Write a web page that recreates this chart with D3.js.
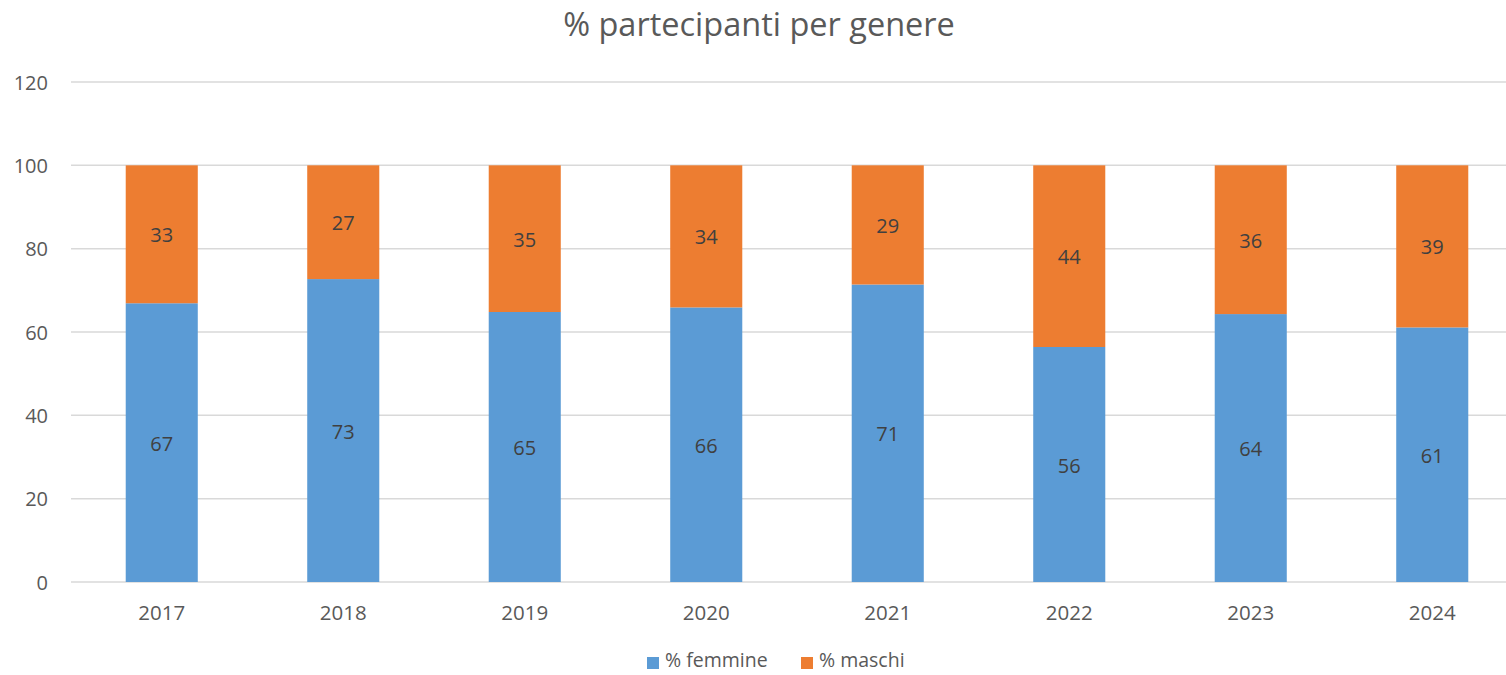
<!DOCTYPE html>
<html>
<head>
<meta charset="utf-8">
<script src="https://cdn.jsdelivr.net/npm/d3@7"></script>
<style>
	body { margin: 0; background: #fff; }
	svg text { font-family: "Open Sans", "Liberation Sans", sans-serif; }
</style>
</head>
<body>
<svg id="chart" width="1506" height="675"></svg>
<script>
const years = ['2017', '2018', '2019', '2020', '2021', '2022', '2023', '2024']
const femmine = [66.9, 72.7, 64.8, 65.9, 71.4, 56.4, 64.3, 61.1]
const maschi = [33.1, 27.3, 35.2, 34.1, 28.6, 43.6, 35.7, 38.9]
const yTicks = [0, 20, 40, 60, 80, 100, 120]
const seriesNames = ['% femmine', '% maschi']
const colors = ['#5B9BD5', '#ED7D31']

const svg = d3.select('#chart')
const width = 1506
const plotTop = 82, plotBottom = 582

const x = d3.scaleBand().domain(years).range([71, 1523])
	.paddingInner(0.603).paddingOuter(0.3015)
const y = d3.scaleLinear().domain([0, 120]).range([plotBottom, plotTop])

svg.append('text')
	.attr('x', 759).attr('y', 36)
	.attr('text-anchor', 'middle')
	.attr('font-size', 32.5).attr('fill', '#595959')
	.text('% partecipanti per genere')

// grid + y labels
const yAxis = d3.axisLeft(y).tickValues(yTicks).tickSize(0).tickPadding(0)
const gy = svg.append('g').attr('transform', 'translate(48,0)').call(yAxis)
gy.select('.domain').remove()
gy.selectAll('text').attr('font-size', 20).attr('fill', '#595959').attr('dy', '0.35em')

svg.append('g').selectAll('line').data(yTicks).enter()
	.append('line')
	.attr('x1', 71).attr('x2', width)
	.attr('y1', d => y(d)).attr('y2', d => y(d))
	.attr('stroke', '#d9d9d9').attr('stroke-width', 1.5)

// stacked data
const rows = years.map((yr, i) => ({year: yr, f: femmine[i], m: maschi[i]}))
const stack = d3.stack().keys(['f', 'm'])(rows)

const layers = svg.append('g').selectAll('g').data(stack).enter()
	.append('g').attr('fill', (d, i) => colors[i])

layers.selectAll('rect').data(d => d).enter()
	.append('rect')
	.attr('x', d => x(d.data.year))
	.attr('width', x.bandwidth())
	.attr('y', d => y(d[1]))
	.attr('height', d => y(d[0]) - y(d[1]))

layers.selectAll('text').data(d => d).enter()
	.append('text')
	.attr('x', d => x(d.data.year) + x.bandwidth() / 2)
	.attr('y', d => (y(d[0]) + y(d[1])) / 2 + 1)
	.attr('dy', '0.35em')
	.attr('text-anchor', 'middle')
	.attr('font-size', 20).attr('fill', '#404040')
	.text(d => Math.round(d[1] - d[0]))

// x axis labels
const xAxis = d3.axisBottom(x).tickSize(0).tickPadding(0)
const gx = svg.append('g').attr('transform', `translate(0,${plotBottom})`).call(xAxis)
gx.select('.domain').remove()
gx.selectAll('text').attr('font-size', 20.5).attr('fill', '#595959').attr('dy', '38').attr('y', 0)

// legend
const legendX = [647, 801]
const legend = svg.append('g').selectAll('g').data(seriesNames).enter()
	.append('g').attr('transform', (d, i) => `translate(${legendX[i]},660)`)
legend.append('rect').attr('width', 12).attr('height', 12).attr('y', -3)
	.attr('fill', (d, i) => colors[i])
legend.append('text').attr('x', 18).attr('dy', '0.35em')
	.attr('font-size', 19.5).attr('fill', '#595959')
	.text(d => d)
</script>
</body>
</html>
